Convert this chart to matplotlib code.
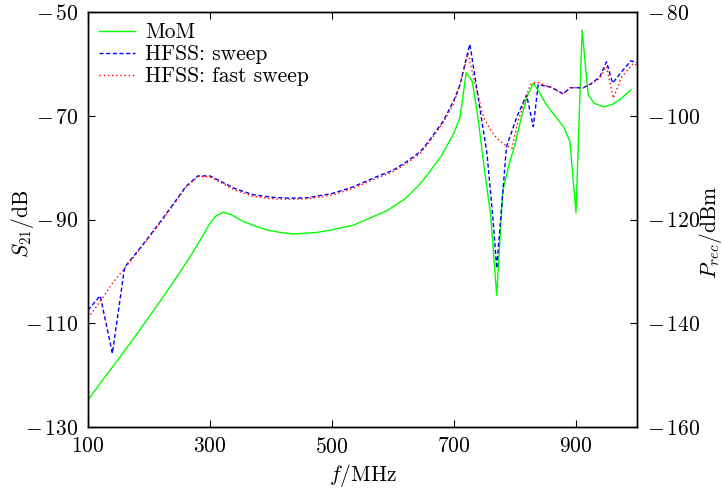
"""S21 of MoM vs HFSS (sweep / fast sweep), with received power on a twin axis."""
import matplotlib
matplotlib.use("Agg")
import matplotlib.pyplot as plt
from matplotlib.ticker import FuncFormatter

plt.rcParams["font.family"] = "serif"
plt.rcParams["font.serif"] = ["cmr10"]
plt.rcParams["mathtext.fontset"] = "cm"
plt.rcParams["axes.unicode_minus"] = False
plt.rcParams["axes.formatter.use_mathtext"] = True

# MoM (green, solid)
mom_f = [100, 125, 150, 175, 200, 225, 250, 270, 290, 300, 310, 322, 335, 355,
         375, 393, 415, 437, 475, 500, 535, 590, 620, 644, 660, 680, 700, 710,
         720, 730, 740, 750, 760, 770, 780, 790, 800, 810, 820, 830, 840, 850,
         860, 870, 880, 890, 900, 910, 920, 930, 945, 960, 975, 990]
mom_s = [-124.8, -120.8, -116.9, -112.9, -108.8, -104.6, -100.3, -96.7, -92.8,
         -90.7, -89.3, -88.6, -89.1, -90.4, -91.3, -92.0, -92.5, -92.8, -92.5,
         -92.0, -91.1, -88.3, -86.0, -83.2, -80.8, -77.6, -73.3, -70.2, -61.7,
         -63.4, -71.0, -80.5, -89.0, -104.6, -84.5, -79.5, -75.5, -70.5, -66.3,
         -63.7, -65.5, -67.6, -69.2, -70.7, -72.2, -75.0, -88.7, -53.5, -66.0,
         -67.6, -68.3, -67.8, -66.6, -65.0]

# HFSS discrete sweep (blue, dashed)
sweep_f = [100, 120, 140, 160, 180, 200, 220, 240, 260, 280, 300, 320, 340, 370,
           400, 430, 460, 500, 535, 570, 600, 622, 645, 660, 682, 700, 710, 720,
           726, 742, 754, 764, 770, 786, 803, 819, 830, 838, 860, 879, 890, 912,
           925, 939, 950, 960, 975, 990, 1000]
sweep_s = [-107.5, -104.7, -115.8, -99.2, -96.3, -93.3, -90.2, -87.0, -83.7, -81.6,
           -81.6, -82.8, -84.0, -85.2, -85.7, -85.9, -85.8, -85.0, -83.7, -81.9,
           -80.5, -78.9, -76.9, -74.7, -71.1, -67.0, -64.0, -59.0, -56.2, -68.3,
           -77.2, -90.0, -99.4, -76.0, -70.2, -66.0, -72.1, -64.0, -64.5, -65.8,
           -64.6, -64.6, -63.8, -62.5, -59.6, -63.7, -61.5, -59.4, -59.8]

# HFSS fast sweep (red, dotted)
fast_f = [100, 120, 140, 160, 180, 200, 220, 240, 260, 280, 300, 320, 340, 370,
          400, 430, 460, 500, 535, 570, 600, 622, 645, 660, 682, 700, 712, 723,
          735, 748, 760, 770, 782, 795, 805, 815, 825, 836, 860, 879, 890, 912,
          925, 939, 950, 961, 975, 994, 1000]
fast_s = [-109.0, -105.8, -102.3, -99.4, -96.5, -93.5, -90.4, -87.2, -83.9, -81.7,
          -81.8, -83.0, -84.3, -85.5, -86.0, -86.1, -86.0, -85.3, -84.0, -82.2,
          -80.8, -79.2, -77.2, -75.0, -71.4, -67.5, -63.0, -58.0, -64.0, -70.2,
          -72.8, -74.3, -75.5, -76.3, -71.0, -67.5, -64.0, -63.5, -64.6, -65.8,
          -64.6, -64.6, -63.9, -62.8, -60.5, -66.6, -62.5, -59.9, -60.3]

xticks = [100, 300, 500, 700, 900]
yticks_left = [-130, -110, -90, -70, -50]
yticks_right = [-160, -140, -120, -100, -80]

FS = 15.5


def tick_label(v, pos):
    v = int(round(v))
    if v < 0:
        return rf"$-\,{abs(v)}$"
    return rf"${v}$"


fig = plt.figure(figsize=(7.24, 4.92), dpi=100)
ax = fig.add_axes([88 / 724, 1 - 427 / 492, (637 - 88) / 724, (427 - 12) / 492])

ax.plot(mom_f, mom_s, color="#00ff00", lw=1.0, label="MoM")
ax.plot(sweep_f, sweep_s, color="#0000ff", lw=1.0, dashes=(3, 1.8),
        label="HFSS: sweep")
ax.plot(fast_f, fast_s, color="#ff0000", lw=1.0, dashes=(1, 2),
        label="HFSS: fast sweep")

ax.set_xlim(100, 1000)
ax.set_ylim(-130, -50)
ax.set_xticks(xticks)
ax.set_yticks(yticks_left)
fmt = FuncFormatter(tick_label)
ax.xaxis.set_major_formatter(fmt)
ax.yaxis.set_major_formatter(fmt)
ax.tick_params(direction="in", length=5, width=0.8, labelsize=FS,
               top=True, right=False, pad=7)
ax.set_xlabel(r"$f/\mathrm{MHz}$", fontsize=FS, labelpad=4)
ax.set_ylabel(r"$S_{21}/\mathrm{dB}$", fontsize=FS)
ax.yaxis.label.set_verticalalignment("center")
ax.yaxis.set_label_coords((22 - 88) / 549, 0.49)

ax2 = ax.twinx()
ax2.set_ylim(-160, -80)
ax2.set_yticks(yticks_right)
ax2.yaxis.set_major_formatter(fmt)
ax2.tick_params(direction="in", length=5, width=0.8, labelsize=FS, pad=7)
ax2.set_ylabel(r"$P_{rec}/\mathrm{dBm}$", fontsize=FS, rotation=90)
ax2.yaxis.label.set_verticalalignment("center")
ax2.yaxis.set_label_coords((711 - 88) / 549, 0.47)

for a in (ax, ax2):
    for sp in a.spines.values():
        sp.set_linewidth(1.0)

ax.legend(loc="upper left", frameon=False, fontsize=FS, handlelength=1.7,
          handletextpad=0.45, labelspacing=0.12, borderpad=0.0,
          borderaxespad=0.5)

fig.savefig("out.png", dpi=100)
